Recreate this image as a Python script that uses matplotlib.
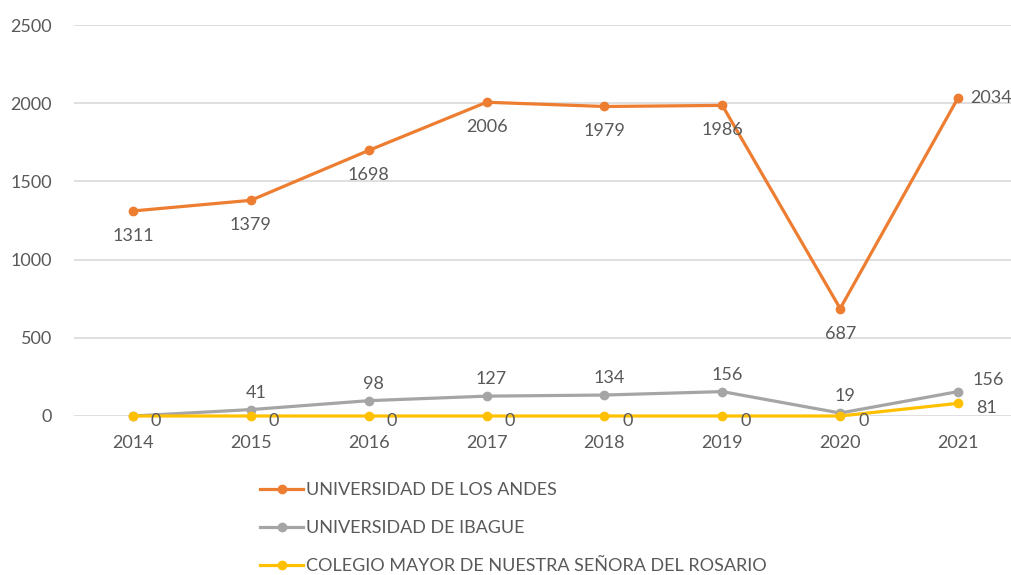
import matplotlib
matplotlib.use("Agg")
import matplotlib.pyplot as plt

years = ["2014", "2015", "2016", "2017", "2018", "2019", "2020", "2021"]
andes = [1311, 1379, 1698, 2006, 1979, 1986, 687, 2034]
ibague = [0, 41, 98, 127, 134, 156, 19, 156]
rosario = [0, 0, 0, 0, 0, 0, 0, 81]
names = ["UNIVERSIDAD DE LOS ANDES", "UNIVERSIDAD DE IBAGUE",
         "COLEGIO MAYOR DE NUESTRA SEÑORA DEL ROSARIO"]
colors = ["#ED7D31", "#A5A5A5", "#FFC000"]
yticks = [0, 500, 1000, 1500, 2000, 2500]

plt.rcParams['font.family'] = ['Lato', 'DejaVu Sans']
txt = "#595959"

W, H = 1011, 575
fig = plt.figure(figsize=(W / 100, H / 100), dpi=100)
ax = fig.add_axes([74 / W, 1 - 416 / H, (1017 - 74) / W, (416 - 25) / H])
x = list(range(len(years)))

ax.set_xlim(-0.5, 7.5)
ax.set_ylim(0, 2500)
ax.set_yticks(yticks)
ax.set_xticks(x)
ax.set_xticklabels(years)
ax.grid(axis='y', color="#D9D9D9", linewidth=1.2)
ax.set_axisbelow(True)
for s in ax.spines.values():
    s.set_visible(False)
ax.tick_params(length=0, labelsize=13, colors=txt)
ax.tick_params(axis='y', pad=16)
ax.tick_params(axis='x', pad=14)

series = [andes, ibague, rosario]
lines = []
for vals, c, n in zip(series, colors, names):
    l, = ax.plot(x, vals, color=c, lw=2.3, marker='o', ms=6, label=n,
                 clip_on=False, zorder=3)
    lines.append(l)

fs = 13
# Andes labels: below, last one right
for i, v in enumerate(andes):
    if i == len(andes) - 1:
        ax.annotate(str(v), (x[i], v), xytext=(12, 0), textcoords='offset pixels',
                    ha='left', va='center', fontsize=fs, color=txt)
    else:
        ax.annotate(str(v), (x[i], v), xytext=(0, -25), textcoords='offset pixels',
                    ha='center', va='center', fontsize=fs, color=txt)
# Ibague labels: above, last one right
for i, v in enumerate(ibague):
    if i == 0:
        continue
    if i == len(ibague) - 1:
        ax.annotate(str(v), (x[i], v), xytext=(14, 12), textcoords='offset pixels',
                    ha='left', va='center', fontsize=fs, color=txt)
    else:
        ax.annotate(str(v), (x[i], v), xytext=(5, 17), textcoords='offset pixels',
                    ha='center', va='center', fontsize=fs, color=txt)
# Rosario labels: right
for i, v in enumerate(rosario):
    ax.annotate(str(v), (x[i], v), xytext=(18, -5), textcoords='offset pixels',
                ha='left', va='center', fontsize=fs, color=txt)

leg = fig.legend(handles=lines, loc='upper left',
                 bbox_to_anchor=(260 / W, 1 - 482 / H), frameon=False,
                 fontsize=13, labelcolor=txt, handlelength=2.4, handletextpad=0.15,
                 labelspacing=1.22, numpoints=1, borderaxespad=0, borderpad=0)

fig.savefig("out.png", dpi=100)
